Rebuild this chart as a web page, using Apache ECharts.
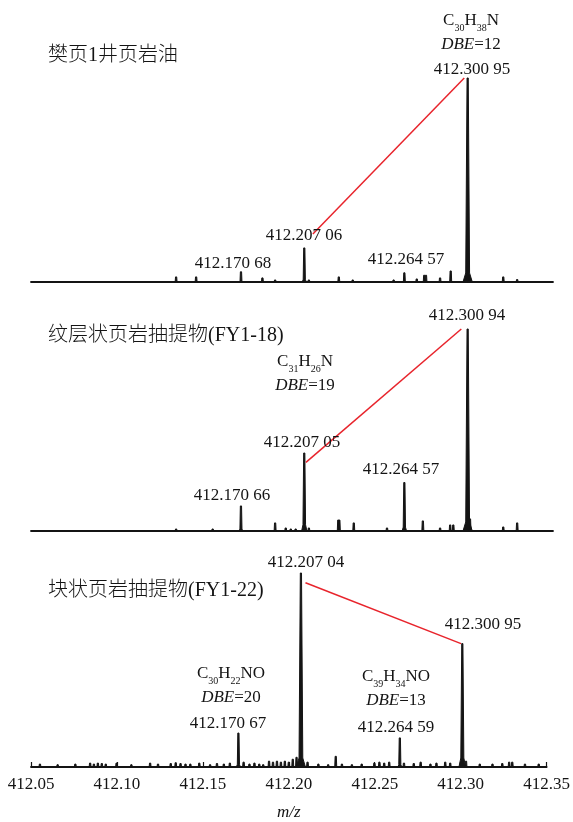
<!DOCTYPE html>
<html>
<head>
<meta charset="utf-8">
<script src="https://cdn.jsdelivr.net/npm/echarts@6/dist/echarts.min.js"></script>
<style>
  html, body { margin: 0; padding: 0; background: #fff; }
  #chart { width: 573px; height: 822px; }
</style>
</head>
<body>
<div id="chart"></div>
<script>
// m/z axis
const mzMin = 412.05;
const mzMax = 412.35;
const mzStep = 0.05;
const axisName = 'm/z';

const panelTitles = ['樊页1井页岩油', '纹层状页岩抽提物(FY1-18)', '块状页岩抽提物(FY1-22)'];

// Peaks: [m/z, relative intensity %]
const peaksOil = [
  [412.1334, 2.5], [412.1449, 2.5], [412.17068, 5], [412.1830, 2], [412.1903, 1],
  [412.20706, 16.7], [412.2097, 1], [412.2269, 2.5], [412.2349, 1], [412.2584, 1],
  [412.26457, 4.5], [412.2717, 1.5], [412.2760, 3.3], [412.2770, 3.3], [412.2851, 2],
  [412.2912, 5.4], [412.30095, 100], [412.3017, 3], [412.3214, 2.5], [412.3294, 1.2]
];
const peaksFY118 = [
  [412.1334, 1], [412.1544, 1], [412.17066, 12.4], [412.1903, 4], [412.1964, 1.5],
  [412.1993, 1], [412.2021, 1], [412.20705, 38.6], [412.2097, 1.5], [412.2266, 5.4],
  [412.2272, 5.4], [412.2355, 4], [412.2546, 1.5], [412.26457, 24], [412.2752, 5],
  [412.2851, 1.5], [412.2909, 3], [412.2927, 3], [412.30094, 100], [412.3023, 6],
  [412.3214, 2], [412.3294, 4]
];
const peaksFY122 = [
  [412.0552, 1.5], [412.0655, 1.2], [412.0758, 1.5], [412.0844, 2], [412.0866, 1.5],
  [412.0889, 2], [412.0912, 1.8], [412.0935, 1.5], [412.0998, 2], [412.1084, 1.2],
  [412.1193, 2], [412.1239, 1.5], [412.1313, 1.8], [412.1342, 2.2], [412.1370, 1.8],
  [412.1399, 1.5], [412.1427, 1.5], [412.1479, 2], [412.1542, 1.2], [412.1582, 1.8],
  [412.1622, 1.5], [412.1657, 2], [412.17067, 17.5], [412.1737, 2.5], [412.1771, 1.5],
  [412.1800, 2], [412.1828, 1.5], [412.1851, 1.2], [412.1885, 3], [412.1908, 2.5],
  [412.1931, 3], [412.1954, 2.5], [412.1977, 3], [412.2000, 2.5], [412.2023, 4],
  [412.2045, 5], [412.20704, 100], [412.2109, 2.5], [412.2172, 1.5], [412.2229, 1.2],
  [412.2273, 5.5], [412.2309, 1.5], [412.2367, 1.2], [412.2424, 1.5], [412.2498, 2],
  [412.2527, 2.5], [412.2555, 2], [412.2584, 2.5], [412.26459, 15], [412.2670, 2],
  [412.2727, 1.8], [412.2767, 2.5], [412.2824, 1.5], [412.2859, 2], [412.2910, 2.5],
  [412.2939, 2], [412.30095, 63.6], [412.3031, 3], [412.3111, 1.5], [412.3185, 1.5],
  [412.3242, 1.8], [412.3282, 2.5], [412.3300, 2.5], [412.3374, 1.5], [412.3454, 1.5]
];

// Labelled peaks: [m/z, intensity, text]
const labelsOil = [
  [412.30095, 100, '412.300 95'], [412.20706, 16.7, '412.207 06'],
  [412.17068, 5, '412.170 68'], [412.26457, 4.5, '412.264 57']
];
const labelsFY118 = [
  [412.30094, 100, '412.300 94'], [412.20705, 38.6, '412.207 05'],
  [412.26457, 24, '412.264 57'], [412.17066, 12.4, '412.170 66']
];
const labelsFY122 = [
  [412.20704, 100, '412.207 04'], [412.30095, 63.6, '412.300 95'],
  [412.17067, 17.5, '412.170 67'], [412.26459, 15, '412.264 59']
];

// Assigned formulas: [m/z, intensity, [[element, count], ...], DBE]
const formulasOil = [[412.30095, 100, [['C', 30], ['H', 38], ['N', 1]], 12]];
const formulasFY118 = [[412.20705, 38.6, [['C', 31], ['H', 26], ['N', 1]], 19]];
const formulasFY122 = [
  [412.17067, 17.5, [['C', 30], ['H', 22], ['N', 1], ['O', 1]], 20],
  [412.26459, 15, [['C', 39], ['H', 34], ['N', 1], ['O', 1]], 13]
];

// Red connectors between compared peaks: [[m/z, intensity], [m/z, intensity]]
const linkOil = [[412.2120, 23.5], [412.2990, 100]];
const linkFY118 = [[412.2080, 34], [412.2973, 100]];
const linkFY122 = [[412.2097, 95], [412.3002, 63.6]];

// ---- layout and styling ----
const INK = '#141414';
const SERIF = "'Liberation Serif', 'Times New Roman', serif";
const TITLE_FONT = "'Liberation Serif', 'Noto Sans CJK SC', sans-serif";

const grids = [
  { left: 31, right: 20, top: 78, height: 204 },
  { left: 31, right: 20, top: 329, height: 202 },
  { left: 31, right: 20, top: 573, height: 206 }
];
const titleTops = [41, 321, 576];

// pixel offsets of number labels from their peak tips
const labelOffsets = [
  [[4, -8], [0, -12], [-8, -8], [2, -13]],
  [[-1, -13], [-2, -10], [-3, -13], [-9, -10]],
  [[5, -10], [21, -19], [-10, -9], [-4, -10]]
];
// pixel offsets of formula blocks from their peak tips
const formulaOffsets = [
  [[3, -45]],
  [[1, -79]],
  [[-7, -47], [-4, -49]]
];

const panelPeaks = [peaksOil, peaksFY118, peaksFY122];
const panelLabels = [labelsOil, labelsFY118, labelsFY122];
const panelFormulas = [formulasOil, formulasFY118, formulasFY122];
const panelLinks = [linkOil, linkFY118, linkFY122];

function formulaRich(parts, dbe) {
  let s = '';
  parts.forEach(([el, n]) => {
    s += '{m|' + el + '}';
    if (n > 1) s += '{s|' + n + '}';
  });
  return s + '\n{i|DBE}{m|=' + dbe + '}';
}

const formulaRichStyles = {
  m: { fontSize: 17, fontFamily: SERIF, fill: INK, color: INK, lineHeight: 24 },
  i: { fontSize: 17, fontFamily: SERIF, fontStyle: 'italic', fill: INK, color: INK, lineHeight: 24 },
  s: { fontSize: 10, fontFamily: SERIF, fill: INK, color: INK, lineHeight: 10, verticalAlign: 'bottom' }
};

// each centroid drawn as a narrow profile peak with a small skirt at its base
function renderPeak(params, api) {
  const mz = api.value(0), h = api.value(1);
  const base = api.coord([mz, 0]);
  const tip = api.coord([mz, h]);
  const H = base[1] - tip[1];
  const wb = 1.4 + H * 0.016;
  const wm = 0.9 + H * 0.005;
  const yk = base[1] - Math.min(H * 0.08, 9);
  return {
    type: 'polygon',
    shape: {
      points: [
        [base[0] - wb, base[1]], [tip[0] - wm, yk], [tip[0] - 0.6, tip[1]],
        [tip[0] + 0.6, tip[1]], [tip[0] + wm, yk], [base[0] + wb, base[1]]
      ]
    },
    style: { fill: INK, stroke: INK, lineWidth: 1 }
  };
}

const xAxes = [], yAxes = [], series = [], titles = [];

grids.forEach((g, i) => {
  const last = i === grids.length - 1;
  xAxes.push({
    type: 'value', gridIndex: i, min: mzMin, max: mzMax, interval: mzStep,
    axisLine: { show: true, onZero: true, lineStyle: { color: INK, width: 1.8 } },
    axisTick: { show: last, inside: true, length: 5, lineStyle: { color: INK, width: 1.2 } },
    axisLabel: {
      show: last, margin: 9, fontSize: 17, fontFamily: SERIF, color: INK,
      showMinLabel: true, showMaxLabel: true,
      formatter: v => v.toFixed(2)
    },
    splitLine: { show: false },
    name: last ? axisName : '',
    nameLocation: 'middle', nameGap: 37,
    nameTextStyle: { fontSize: 17, fontFamily: SERIF, fontStyle: 'italic', color: INK }
  });
  yAxes.push({ type: 'value', gridIndex: i, min: 0, max: 100, show: false });

  titles.push({
    text: panelTitles[i], left: 43, top: titleTops[i],
    textStyle: { fontSize: 20, fontWeight: 300, fontFamily: TITLE_FONT, color: INK }
  });

  series.push({
    type: 'custom', xAxisIndex: i, yAxisIndex: i, silent: true,
    renderItem: renderPeak, data: panelPeaks[i], clip: false, z: 3
  });

  series.push({
    type: 'line', xAxisIndex: i, yAxisIndex: i, silent: true, clip: false,
    data: panelLinks[i], showSymbol: false, symbol: 'none',
    lineStyle: { color: '#e8242c', width: 1.5 }, z: 4
  });
});

const chart = echarts.init(document.getElementById('chart'), null, { renderer: 'canvas' });
chart.setOption({
  animation: false,
  backgroundColor: '#fff',
  title: titles,
  grid: grids,
  xAxis: xAxes,
  yAxis: yAxes,
  series: series
});

// Peak annotations: placed at the peak tips (through the axes), snapped to whole pixels
const graphics = [];
function tipPixel(i, mz, h) {
  return chart.convertToPixel({ xAxisIndex: i, yAxisIndex: i }, [mz, h]);
}
grids.forEach((g, i) => {
  panelLabels[i].forEach((d, k) => {
    const p = tipPixel(i, d[0], d[1]);
    const off = labelOffsets[i][k];
    graphics.push({
      type: 'text', silent: true, z: 10,
      x: Math.round(p[0] + off[0]), y: Math.round(p[1] + off[1]),
      style: {
        text: d[2], fill: INK, fontSize: 17, fontFamily: SERIF,
        align: 'center', verticalAlign: 'middle'
      }
    });
  });
  panelFormulas[i].forEach((d, k) => {
    const p = tipPixel(i, d[0], d[1]);
    const off = formulaOffsets[i][k];
    graphics.push({
      type: 'text', silent: true, z: 10,
      x: Math.round(p[0] + off[0]), y: Math.round(p[1] + off[1]),
      style: {
        text: formulaRich(d[2], d[3]), fill: INK, fontSize: 17, fontFamily: SERIF,
        align: 'center', verticalAlign: 'middle', rich: formulaRichStyles
      }
    });
  });
});
chart.setOption({ graphic: graphics });
</script>
</body>
</html>
